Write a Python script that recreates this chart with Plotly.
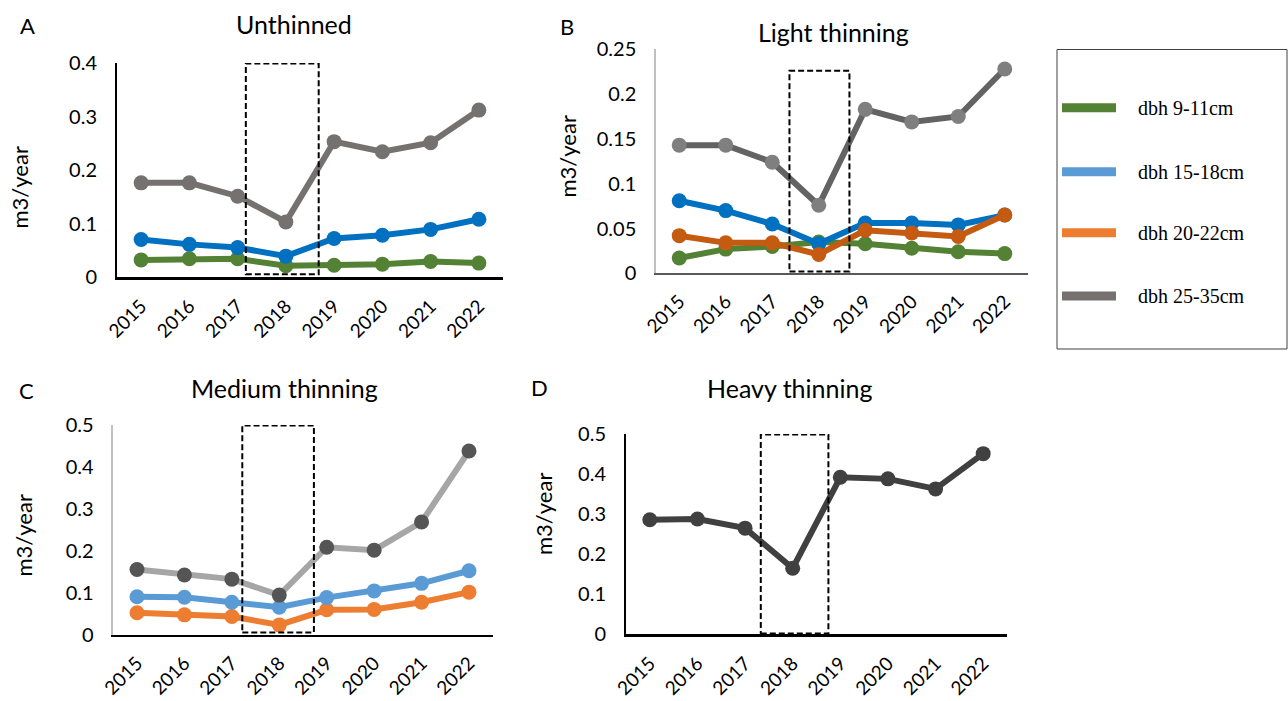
import plotly.graph_objects as go

W, H = 1288, 701

years = ["2015", "2016", "2017", "2018", "2019", "2020", "2021", "2022"]

# Panel A - Unthinned
a_dbh9 = [0.032, 0.034, 0.034, 0.021, 0.022, 0.024, 0.029, 0.026]
a_dbh15 = [0.070, 0.061, 0.055, 0.039, 0.072, 0.078, 0.089, 0.108]
a_dbh25 = [0.176, 0.176, 0.151, 0.103, 0.253, 0.234, 0.251, 0.312]

# Panel B - Light thinning
b_dbh9 = [0.017, 0.027, 0.030, 0.035, 0.033, 0.028, 0.024, 0.022]
b_dbh15 = [0.081, 0.070, 0.055, 0.033, 0.056, 0.056, 0.054, 0.065]
b_dbh20 = [0.042, 0.034, 0.034, 0.021, 0.048, 0.045, 0.041, 0.065]
b_dbh25 = [0.143, 0.143, 0.124, 0.076, 0.183, 0.169, 0.175, 0.228]

# Panel C - Medium thinning
c_dbh15 = [0.091, 0.090, 0.078, 0.066, 0.089, 0.105, 0.123, 0.153]
c_dbh20 = [0.053, 0.048, 0.044, 0.024, 0.060, 0.061, 0.078, 0.102]
c_dbh25 = [0.156, 0.143, 0.133, 0.095, 0.209, 0.202, 0.269, 0.438]

# Panel D - Heavy thinning
d_all = [0.286, 0.288, 0.265, 0.165, 0.392, 0.388, 0.363, 0.451]

titles = ["Unthinned", "Light thinning", "Medium thinning", "Heavy thinning"]
panel_letters = ["A", "B", "C", "D"]
y_title = "m3/year"
legend_labels = ["dbh 9-11cm", "dbh 15-18cm", "dbh 20-22cm", "dbh 25-35cm"]
legend_colors = ["#548235", "#5b9bd5", "#ed7d31", "#767171"]

# dashed "2018" boxes (x in category index units, y in data units)
box_A = [2.17, 3.68, 0.005, 0.399]
box_B = [2.37, 3.66, 0.002, 0.226]
box_C = [2.22, 3.73, 0.006, 0.499]
box_D = [2.33, 3.75, 0.002, 0.499]

FONT = "Lato"

fig = go.Figure()


def px_x(p):
    return p / W


def px_y(p):
    return 1 - p / H


def add(xa, ya, y, lc, mc, lw=6, ms=15):
    fig.add_trace(go.Scatter(
        x=years, y=y, xaxis=xa, yaxis=ya, mode="lines+markers",
        line=dict(color=lc, width=lw),
        marker=dict(color=mc, size=ms),
        cliponaxis=False, showlegend=False, hoverinfo="skip"))


# A
add("x", "y", a_dbh9, "#548235", "#548235")
add("x", "y", a_dbh15, "#0070c0", "#0070c0")
add("x", "y", a_dbh25, "#767171", "#767171")
# B
add("x2", "y2", b_dbh9, "#548235", "#548235")
add("x2", "y2", b_dbh15, "#0070c0", "#0070c0")
add("x2", "y2", b_dbh20, "#c55a11", "#c55a11")
add("x2", "y2", b_dbh25, "#636363", "#7f7f7f")
# C
add("x3", "y3", c_dbh20, "#ed7d31", "#ed7d31")
add("x3", "y3", c_dbh15, "#5b9bd5", "#5b9bd5")
add("x3", "y3", c_dbh25, "#a6a6a6", "#555555")
# D
add("x4", "y4", d_all, "#404040", "#404040")

# panel pixel frames: left, right, top, bottom
frames = {
    "1": (117, 503, 63, 277),
    "2": (656, 1028, 49.3, 273.3),
    "3": (113.3, 492.7, 425, 635),
    "4": (626, 1007, 434, 634.3),
}
yranges = {"1": [0, 0.4], "2": [0, 0.25], "3": [0, 0.5], "4": [0, 0.5]}
ydticks = {"1": 0.1, "2": 0.05, "3": 0.1, "4": 0.1}
ylinecol = {"1": "black", "2": "#bfbfbf", "3": "#bfbfbf", "4": "black"}
xlinecol = {"1": "black", "2": "#595959", "3": "black", "4": "black"}
xlinew = {"1": 2.5, "2": 1.5, "3": 1.5, "4": 2.5}
ylinew = {"1": 2, "2": 1.5, "3": 1.5, "4": 2}

layout = dict(
    width=W, height=H, margin=dict(l=0, r=0, t=0, b=0, autoexpand=False),
    paper_bgcolor="white", plot_bgcolor="white",
    font=dict(family=FONT, color="black"),
)
for k, (l, r, t, b) in frames.items():
    sx = "" if k == "1" else k
    layout["xaxis" + sx] = dict(
        domain=[px_x(l), px_x(r)], anchor="y" + sx, type="category",
        range=[-0.5, 7.5], showline=True, linecolor=xlinecol[k], linewidth=xlinew[k],
        showgrid=False, zeroline=False, ticks="", tickangle=-45, automargin=False,
        tickfont=dict(size=19, family=FONT), ticklabelstandoff=8)
    layout["yaxis" + sx] = dict(
        domain=[px_y(b), px_y(t)], anchor="x" + sx, range=yranges[k],
        dtick=ydticks[k], tick0=0, showline=True, linecolor=ylinecol[k],
        linewidth=ylinew[k], showgrid=False, zeroline=False, ticks="", automargin=False,
        tickfont=dict(size=20, family=FONT), ticklabelstandoff=14)
fig.update_layout(**layout)

shapes = []
for sx, bx in zip(["", "2", "3", "4"], [box_A, box_B, box_C, box_D]):
    shapes.append(dict(type="rect", xref="x" + sx, yref="y" + sx,
                       x0=bx[0], x1=bx[1], y0=bx[2], y1=bx[3],
                       line=dict(color="black", width=2, dash="6px,3px"),
                       fillcolor="rgba(0,0,0,0)"))

# legend box
shapes.append(dict(type="rect", xref="paper", yref="paper",
                   x0=px_x(1057), x1=px_x(1287), y0=px_y(349), y1=px_y(49.5),
                   line=dict(color="#404040", width=1)))
leg_y = [107.7, 171.7, 232.7, 296]
for c, yy in zip(legend_colors, leg_y):
    shapes.append(dict(type="line", xref="paper", yref="paper",
                       x0=px_x(1062), x1=px_x(1116), y0=px_y(yy), y1=px_y(yy),
                       line=dict(color=c, width=9)))
fig.update_layout(shapes=shapes)

ann = []
for lab, yy in zip(legend_labels, leg_y):
    ann.append(dict(text=lab, xref="paper", yref="paper", x=px_x(1136), y=px_y(yy),
                    xanchor="left", yanchor="middle", showarrow=False,
                    font=dict(family="Liberation Serif", size=20, color="black")))

title_pos = [(294, 24), (833, 32), (284, 388), (789, 388)]
letter_pos = [(27.5, 25), (566.7, 27), (26, 390), (539, 387)]
ytitle_pos = [(18.5, 188), (567.5, 157), (22.5, 535), (543, 514)]
for t, (x, y) in zip(titles, title_pos):
    ann.append(dict(text=t, xref="paper", yref="paper", x=px_x(x), y=px_y(y),
                    xanchor="center", yanchor="middle", showarrow=False,
                    font=dict(family=FONT, size=25)))
for t, (x, y) in zip(panel_letters, letter_pos):
    ann.append(dict(text=t, xref="paper", yref="paper", x=px_x(x), y=px_y(y),
                    xanchor="center", yanchor="middle", showarrow=False,
                    font=dict(family=FONT, size=22)))
for (x, y) in ytitle_pos:
    ann.append(dict(text=y_title, xref="paper", yref="paper", x=px_x(x), y=px_y(y),
                    xanchor="center", yanchor="middle", showarrow=False, textangle=-90,
                    font=dict(family=FONT, size=22)))
fig.update_layout(annotations=ann)

fig.write_html("out.html")
